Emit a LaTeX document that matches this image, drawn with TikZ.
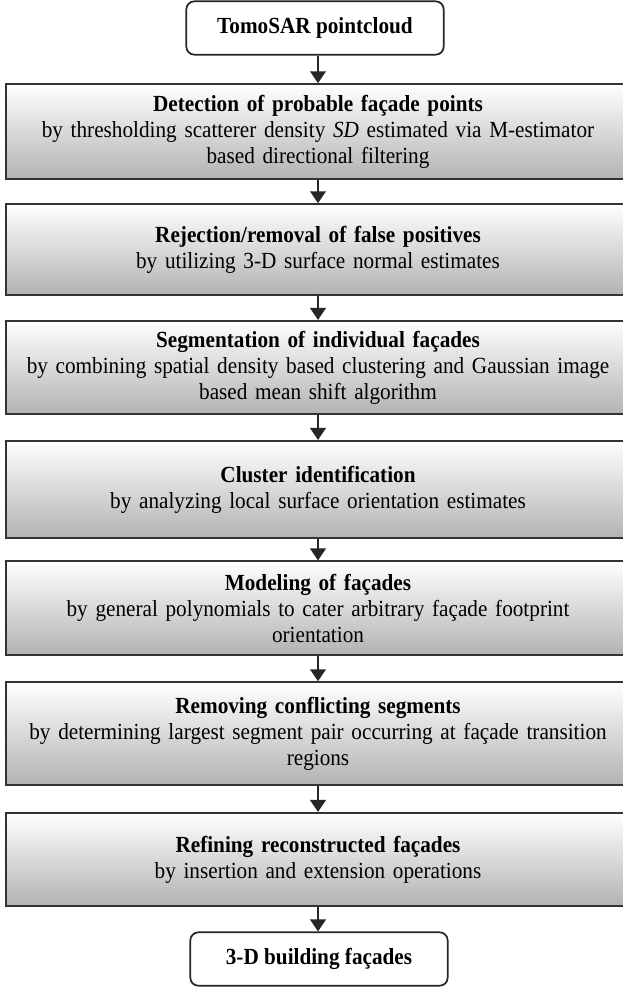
\documentclass[tikz,border=0pt]{standalone}
\usepackage{fontspec}
\setmainfont{Liberation Serif}[FakeStretch=0.92]
\usetikzlibrary{arrows.meta}
\usetikzlibrary{positioning}
\tikzset{
    stepbox/.style={draw=black!80, line width=1.3pt, top color=white, bottom color=black!30,
        minimum width=468pt, text width=462pt, align=center, inner sep=0pt,
        font=\fontsize{17.3}{19.5}\selectfont},
    endbox/.style={draw=black!85, line width=1.3pt, rounded corners=6pt, fill=white,
        minimum width=193pt, minimum height=40pt, font=\fontsize{17.3}{19.5}\selectfont\bfseries},
    flow/.style={line width=2.1pt, black!85, -{Triangle[width=11.5pt,length=9pt]}}
}

\begin{document}
\begin{tikzpicture}[x=0.75pt,y=-0.75pt]
\useasboundingbox (0,0) rectangle (623,989);
\clip (0,0) rectangle (623,989);
\node[endbox] (cloud) at (315,28) {TomoSAR pointcloud};
\node[stepbox, minimum height=71pt] (detect) at (318,131.5) {\textbf{Detection of probable façade points}\\by thresholding scatterer density \textit{SD} estimated via M-estimator\\based directional filtering};
\node[stepbox, minimum height=68pt] (reject) at (318,249.5) {\textbf{Rejection/removal of false positives}\\by utilizing 3-D surface normal estimates};
\node[stepbox, minimum height=70pt] (segment) at (318,367.5) {\textbf{Segmentation of individual façades}\\by combining spatial density based clustering and Gaussian image\\based mean shift algorithm};
\node[stepbox, minimum height=73pt] (cluster) at (318,489.5) {\textbf{Cluster identification}\\by analyzing local surface orientation estimates};
\node[stepbox, minimum height=70pt] (model) at (318,608) {\textbf{Modeling of façades}\\by general polynomials to cater arbitrary façade footprint\\orientation};
\node[stepbox, minimum height=77pt] (conflict) at (318,733.5) {\textbf{Removing conflicting segments}\\by determining largest segment pair occurring at façade transition\\regions};
\node[stepbox, minimum height=70pt] (refine) at (318,859.5) {\textbf{Refining reconstructed façades}\\by insertion and extension operations};
\node[endbox] (facades) at (319,959) {3-D building façades};
% arrows between the steps
\draw[flow] (cloud.south -| detect.north) -- (detect.north);
\draw[flow] (detect) -- (reject);
\draw[flow] (reject) -- (segment);
\draw[flow] (segment) -- (cluster);
\draw[flow] (cluster) -- (model);
\draw[flow] (model) -- (conflict);
\draw[flow] (conflict) -- (refine);
\draw[flow] (refine.south) -- (facades.north -| refine.south);
\end{tikzpicture}
\end{document}
